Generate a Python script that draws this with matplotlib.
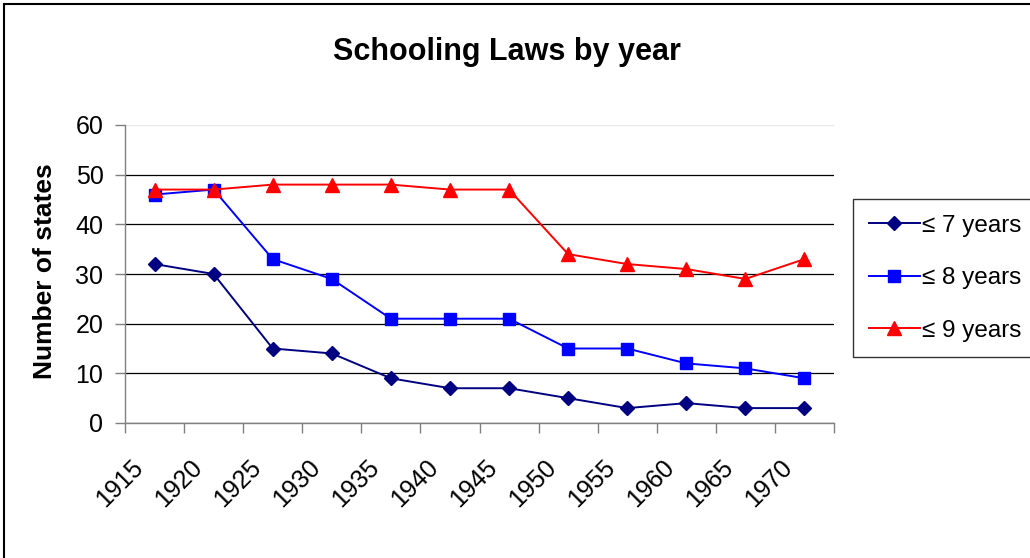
import matplotlib
matplotlib.use("Agg")
import matplotlib.pyplot as plt
import matplotlib.transforms as mtransforms
from matplotlib.patches import Rectangle
import numpy as np

plt.rcParams['font.family'] = ['Liberation Sans', 'DejaVu Sans']

years = ["1915", "1920", "1925", "1930", "1935", "1940", "1945", "1950", "1955", "1960", "1965", "1970"]
le7 = [32, 30, 15, 14, 9, 7, 7, 5, 3, 4, 3, 3]
le8 = [46, 47, 33, 29, 21, 21, 21, 15, 15, 12, 11, 9]
le9 = [47, 47, 48, 48, 48, 47, 47, 34, 32, 31, 29, 33]
series_labels = ["≤ 7 years", "≤ 8 years", "≤ 9 years"]

W, H = 1030, 558
fig = plt.figure(figsize=(W / 100, H / 100), dpi=100)
ax = fig.add_axes([125 / W, 1 - 423 / H, (834 - 125) / W, (423 - 125) / H])

x = np.arange(len(years)) + 0.5
ax.plot(x, le7, color='#000080', lw=1.4, marker='D', ms=7.2, label=series_labels[0], zorder=3)
ax.plot(x, le8, color='#0000FF', lw=1.4, marker='s', ms=8.2, label=series_labels[1], zorder=3)
ax.plot(x, le9, color='#FF0000', lw=1.4, marker='^', ms=10, label=series_labels[2], zorder=3)

ax.set_xlim(0, len(years))
ax.set_ylim(0, 60)
ax.set_yticks(range(0, 61, 10))
ax.tick_params(axis='y', labelsize=18, length=7, width=1, color='#808080', pad=8.5)

ax.set_xticks(x)
ax.set_xticklabels(years, rotation=45, ha='right', va='top', fontsize=18)
ax.tick_params(axis='x', which='major', length=0, pad=23)
ax.set_xticks(np.arange(len(years) + 1), minor=True)
ax.tick_params(axis='x', which='minor', length=7, width=1, color='#808080')
offset = mtransforms.ScaledTranslation(-7 / 100, 0, fig.dpi_scale_trans)
for lab in ax.get_xticklabels():
    lab.set_transform(lab.get_transform() + offset)

ax.yaxis.grid(True, color='black', lw=0.9)
gl = ax.get_ygridlines()
gl[-1].set_color('#e8e8e8')
ax.set_axisbelow(True)

for s in ['top', 'right']:
    ax.spines[s].set_visible(False)
for s in ['left', 'bottom']:
    ax.spines[s].set_color('#808080')
    ax.spines[s].set_linewidth(1)

fig.text(507 / W, 1 - 60 / H, "Schooling Laws by year", ha='center', va='baseline',
         fontsize=22, fontweight='bold')
fig.text(45 / W, 1 - 271 / H, "Number of states", ha='center', va='center', rotation=90,
         fontsize=19, fontweight='bold')

leg = fig.legend(loc='upper left', bbox_to_anchor=(853 / W, 1 - 199 / H), bbox_transform=fig.transFigure,
                 fontsize=17.5, frameon=True, fancybox=False, edgecolor='black', borderpad=0.65,
                 labelspacing=1.25, handlelength=2.1, handletextpad=0.1, borderaxespad=0)
leg.get_frame().set_linewidth(1)

fig.patches.append(Rectangle((3.5 / W, -0.1), 1.2, (H - 3.5) / H + 0.1, transform=fig.transFigure,
                             fill=False, edgecolor='black', lw=1.5))

fig.savefig("out.png", dpi=100)
